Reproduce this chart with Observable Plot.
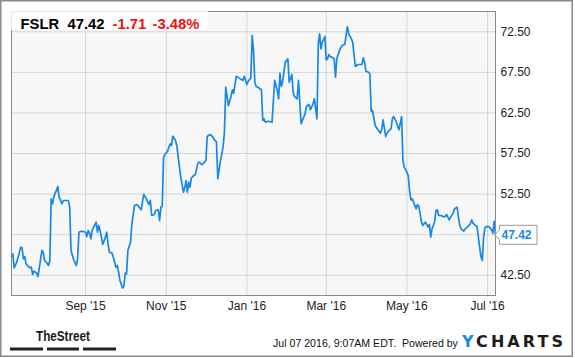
<!DOCTYPE html>
<html><head><meta charset="utf-8">
<script src="https://cdn.jsdelivr.net/npm/d3@7"></script>
<script src="https://cdn.jsdelivr.net/npm/@observablehq/plot@0.6"></script>
<style>body{margin:0;background:#fff}#chart{position:relative;width:575px;height:358px}</style>
</head><body><div id="chart"></div>
<script>
const dates = [
"2015-07-07","2015-07-08","2015-07-09","2015-07-11","2015-07-14","2015-07-15","2015-07-16","2015-07-17","2015-07-18","2015-07-20",
"2015-07-21","2015-07-22","2015-07-23","2015-07-24","2015-07-26","2015-07-27","2015-07-30","2015-07-31","2015-08-01","2015-08-03",
"2015-08-04","2015-08-05","2015-08-06","2015-08-07","2015-08-08","2015-08-11","2015-08-12","2015-08-13","2015-08-14","2015-08-15",
"2015-08-16","2015-08-19","2015-08-20","2015-08-21","2015-08-23","2015-08-25","2015-08-26","2015-08-27","2015-08-29","2015-09-01",
"2015-09-02","2015-09-03","2015-09-04","2015-09-05","2015-09-06","2015-09-09","2015-09-10","2015-09-11","2015-09-12","2015-09-14",
"2015-09-16","2015-09-17","2015-09-18","2015-09-19","2015-09-21","2015-09-22","2015-09-24","2015-09-25","2015-09-26","2015-09-27",
"2015-09-29","2015-09-30","2015-10-01","2015-10-02","2015-10-03","2015-10-05","2015-10-06","2015-10-08","2015-10-10","2015-10-13",
"2015-10-15","2015-10-17","2015-10-18","2015-10-19","2015-10-20","2015-10-21","2015-10-23","2015-10-24","2015-10-26","2015-10-27",
"2015-10-28","2015-10-29","2015-10-30","2015-10-31","2015-11-02","2015-11-04","2015-11-05","2015-11-06","2015-11-08","2015-11-09",
"2015-11-11","2015-11-12","2015-11-14","2015-11-15","2015-11-16","2015-11-17","2015-11-18","2015-11-19","2015-11-20","2015-11-21",
"2015-11-23","2015-11-25","2015-11-26","2015-11-28","2015-11-30","2015-12-01","2015-12-02","2015-12-04","2015-12-06","2015-12-07",
"2015-12-09","2015-12-10","2015-12-12","2015-12-14","2015-12-15","2015-12-16","2015-12-18","2015-12-20","2015-12-21","2015-12-22",
"2015-12-24","2015-12-26","2015-12-29","2015-12-30","2016-01-01","2016-01-02","2016-01-04","2016-01-05","2016-01-06","2016-01-07",
"2016-01-08","2016-01-10","2016-01-12","2016-01-13","2016-01-14","2016-01-15","2016-01-17","2016-01-18","2016-01-20","2016-01-22",
"2016-01-24","2016-01-25","2016-01-26","2016-01-27","2016-01-28","2016-01-30","2016-02-01","2016-02-02","2016-02-04","2016-02-05",
"2016-02-06","2016-02-08","2016-02-09","2016-02-10","2016-02-11","2016-02-12","2016-02-14","2016-02-15","2016-02-17","2016-02-18",
"2016-02-20","2016-02-21","2016-02-23","2016-02-24","2016-02-25","2016-02-26","2016-02-27","2016-02-29","2016-03-01","2016-03-02",
"2016-03-03","2016-03-04","2016-03-06","2016-03-07","2016-03-08","2016-03-09","2016-03-11","2016-03-12","2016-03-13","2016-03-15",
"2016-03-17","2016-03-18","2016-03-20","2016-03-21","2016-03-23","2016-03-25","2016-03-26","2016-03-28","2016-03-29","2016-03-30",
"2016-03-31","2016-04-02","2016-04-03","2016-04-04","2016-04-05","2016-04-07","2016-04-09","2016-04-11","2016-04-12","2016-04-13",
"2016-04-15","2016-04-16","2016-04-18","2016-04-19","2016-04-20","2016-04-21","2016-04-23","2016-04-25","2016-04-27","2016-04-28",
"2016-04-29","2016-05-01","2016-05-02","2016-05-03","2016-05-04","2016-05-05","2016-05-06","2016-05-08","2016-05-09","2016-05-10",
"2016-05-11","2016-05-12","2016-05-13","2016-05-14","2016-05-15","2016-05-17","2016-05-18","2016-05-19","2016-05-20","2016-05-21",
"2016-05-22","2016-05-23","2016-05-24","2016-05-25","2016-05-27","2016-05-28","2016-05-30","2016-05-31","2016-06-02","2016-06-03",
"2016-06-05","2016-06-06","2016-06-08","2016-06-09","2016-06-10","2016-06-11","2016-06-13","2016-06-14","2016-06-16","2016-06-18",
"2016-06-19","2016-06-20","2016-06-22","2016-06-23","2016-06-24","2016-06-25","2016-06-26","2016-06-27","2016-06-28","2016-06-29",
"2016-06-30","2016-07-02","2016-07-04","2016-07-05","2016-07-06","2016-07-07"];
const prices = [
44.80,45.13,43.41,44.11,45.96,45.87,44.52,44.80,43.90,43.57,
43.41,43.49,42.59,43.00,42.75,42.34,45.55,45.34,44.31,43.98,
43.70,44.31,51.91,51.30,52.12,53.43,52.12,51.79,51.30,51.63,
51.71,51.71,50.89,45.55,44.40,43.70,44.52,47.80,47.93,47.80,
47.27,48.01,47.68,46.98,48.01,49.04,47.80,48.63,48.01,46.29,
47.19,47.80,46.37,45.34,45.22,44.72,43.49,43.70,42.87,41.85,
40.94,41.11,42.75,42.67,45.55,46.57,48.83,51.09,51.21,50.56,
52.45,51.91,51.50,51.21,51.71,49.86,49.98,50.47,50.56,49.24,
50.89,50.97,57.05,57.38,57.79,58.69,58.49,59.63,59.10,58.49,
55.81,54.58,52.73,53.27,54.17,52.73,53.97,53.35,54.50,54.66,
54.91,56.31,56.43,56.14,56.43,56.64,59.60,59.84,59.60,59.31,
58.90,54.38,56.64,58.28,60.13,65.67,63.41,64.52,65.35,64.93,
67.01,66.82,66.50,67.01,66.00,66.41,66.82,72.04,70.19,66.29,
65.76,65.59,65.35,61.57,61.77,61.36,61.48,61.44,61.36,66.50,
65.26,64.24,67.40,65.76,66.29,68.76,69.17,66.29,67.24,65.06,
64.52,64.24,66.50,63.83,61.16,61.57,62.39,63.29,63.54,62.88,
63.62,64.24,61.77,71.02,72.25,70.40,71.22,71.92,69.04,69.17,
69.70,69.45,69.29,69.17,66.91,69.17,70.19,70.52,70.81,70.93,
73.15,72.25,71.63,71.22,68.22,68.47,68.47,68.47,69.29,68.76,
67.65,67.52,67.32,62.70,62.80,60.95,60.42,60.00,60.54,61.65,
59.59,60.00,60.42,60.54,61.77,62.06,61.36,60.42,62.06,56.64,
55.81,55.20,54.79,52.94,51.79,51.91,51.50,50.68,51.21,50.97,
50.06,49.04,48.62,48.83,49.04,48.42,48.75,47.19,48.21,48.62,
49.16,50.47,50.56,49.86,49.86,49.73,49.73,49.98,49.32,49.65,
50.15,50.68,50.88,49.65,48.62,48.21,47.93,48.21,48.50,48.83,
49.32,48.91,48.62,48.50,47.27,45.96,44.80,44.31,47.19,48.34,
48.50,48.50,48.09,47.68,49.13,47.42];
const xTicks = ["2015-09-01","2015-11-01","2016-01-01","2016-03-01","2016-05-01","2016-07-01"];
const yTicks = [42.5,47.5,52.5,57.5,62.5,67.5,72.5];
const ticker = "FSLR";
const change = "-1.71";
const changePct = "-3.48%";
const stamp = "Jul 07 2016, 9:07AM EDT.\u00a0 Powered by";

const data = dates.map((d, i) => ({date: new Date(d), price: prices[i]}));
const last = data[data.length - 1];
const tickDates = xTicks.map(d => new Date(d));
// the price flag hides the tick label it would cover
const yLabelTicks = yTicks.filter(v => Math.abs(v - last.price) > 2.5);
const fmt = d3.utcFormat("%b '%y");
const blue = "#1788e8";

const chart = Plot.plot({
  width: 575, height: 358,
  marginLeft: 11, marginRight: 80, marginTop: 11, marginBottom: 63,
  style: {background: "#fff", fontFamily: "'Liberation Sans', Arial, sans-serif", fontSize: "12px", color: "#222", overflow: "visible"},
  x: {type: "utc", domain: [new Date(dates[0]), new Date(dates[dates.length - 1])], label: null},
  y: {domain: [40, 75], label: null},
  marks: [
    Plot.frame({fill: "#f7f7f7", stroke: null}),
    Plot.gridX(tickDates, {stroke: "#d5d5d5", strokeOpacity: 1}),
    Plot.gridY(yTicks, {stroke: "#d5d5d5", strokeOpacity: 1}),
    Plot.line(data, {x: "date", y: "price", stroke: blue, strokeWidth: 1.7}),
    Plot.frame({stroke: "#8a8a8a"}),
    Plot.axisX(tickDates, {tickSize: 0, tickPadding: 6, tickFormat: fmt}),
    Plot.axisY(yLabelTicks, {anchor: "right", tickSize: 0, tickPadding: 5, tickFormat: d => d.toFixed(2)})
  ]
});
document.getElementById("chart").appendChild(chart);

const svg = d3.select(chart);
const font = "'Liberation Sans', Arial, sans-serif";
const xr = chart.scale("x").apply(last.date);
const yl = chart.scale("y").apply(last.price);
const g = svg.append("g").attr("text-anchor", "start").attr("font-family", font);

// price flag
const fx = xr + 4.5;
g.append("path")
  .attr("d", `M${xr},${yl} L${fx},${yl - 5} V${yl - 9.5} H${fx + 37.5} V${yl + 9.5} H${fx} V${yl + 5} Z`)
  .attr("fill", "#fff").attr("stroke", "#9a9a9a").attr("stroke-width", 1);
g.append("text").attr("x", fx + 2).attr("y", yl + 4.5)
  .attr("font-size", 12).attr("font-weight", "bold")
  .attr("fill", blue).text(last.price.toFixed(2));

// title box
g.append("rect").attr("x", 11).attr("y", 11).attr("width", 197).attr("height", 19)
  .attr("fill", "#fff").attr("fill-opacity", 0.8);
const t = g.append("g").attr("font-size", 14.8).attr("font-weight", "bold");
t.append("text").attr("x", 20.5).attr("y", 28.8).attr("fill", "#000").text(ticker);
t.append("text").attr("x", 67.5).attr("y", 28.8).attr("fill", "#000").text(last.price.toFixed(2));
t.append("text").attr("x", 112.5).attr("y", 28.8).attr("fill", "#f01010").text(change);
t.append("text").attr("x", 152.5).attr("y", 28.8).attr("fill", "#f01010").text(changePct);

// footer
g.append("text").attr("x", 36).attr("y", 341)
  .attr("font-size", 15).attr("font-weight", "bold").attr("fill", "#1a1a1a")
  .attr("textLength", 54).attr("lengthAdjust", "spacingAndGlyphs").text("TheStreet");
[[10, 43], [47, 79], [83, 116]].forEach(([a, b]) =>
  g.append("rect").attr("x", a).attr("y", 347.5).attr("width", b - a).attr("height", 3).attr("fill", "#222"));
g.append("text").attr("x", 273).attr("y", 346.5)
  .attr("font-size", 10.6).attr("fill", "#111").text(stamp);
const yc = g.append("text").attr("x", 462).attr("y", 347.3)
  .attr("font-family", "'DejaVu Sans', sans-serif")
  .attr("font-size", 16).attr("font-weight", "bold")
  .attr("textLength", 101).attr("lengthAdjust", "spacing");
yc.append("tspan").attr("fill", blue).text("Y");
yc.append("tspan").attr("fill", "#1c1c1c").text("CHARTS");

// outer border
g.append("rect").attr("x", 0.75).attr("y", 0.75).attr("width", 571.5).attr("height", 355.5)
  .attr("fill", "none").attr("stroke", "#8a8a8a").attr("stroke-width", 1.5);
</script></body></html>
